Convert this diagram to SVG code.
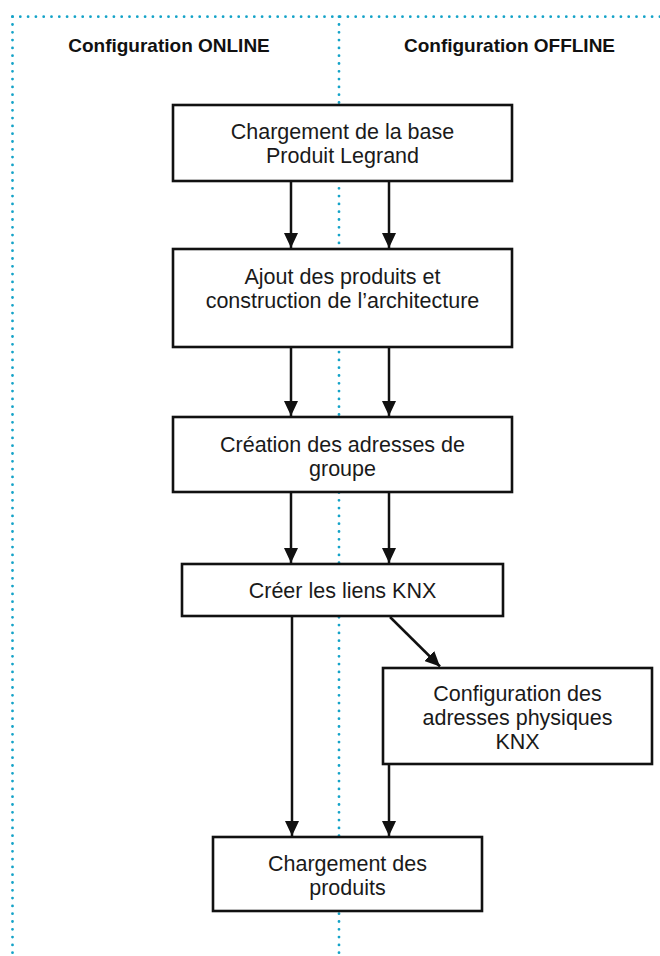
<svg xmlns="http://www.w3.org/2000/svg" width="660" height="956" viewBox="0 0 660 956">
<style>
.bg{fill:#ffffff}
.dot{fill:none;stroke:#14a3c8;stroke-width:2.8;stroke-linecap:round;stroke-dasharray:0 7.8}
.box{fill:#ffffff;stroke:#111111;stroke-width:2.6}
.lbl{font-family:"Liberation Sans",Arial,sans-serif;font-size:21.5px;fill:#1a1a1a;text-anchor:middle}
.ttl{font-family:"Liberation Sans",Arial,sans-serif;font-size:19px;font-weight:bold;fill:#111111;text-anchor:middle}
.arr{fill:none;stroke:#111111;stroke-width:2.5;marker-end:url(#ah)}
</style>
<defs>
<marker id="ah" viewBox="0 0 15 14" refX="15" refY="7" markerWidth="15" markerHeight="14" markerUnits="userSpaceOnUse" orient="auto">
<path d="M0,0 L15,7 L0,14 z" fill="#111111"/>
</marker>
</defs>
<rect class="bg" x="0" y="0" width="660" height="956"/>
<g id="lanes">
<path class="dot" d="M12.5,16.7 H660"/>
<path class="dot" d="M12.5,16.7 V956"/>
<path class="dot" d="M339,16.7 V956"/>
<text class="ttl" x="169" y="52">Configuration ONLINE</text>
<text class="ttl" x="509.5" y="52">Configuration OFFLINE</text>
</g>
<g id="connectors">
<path class="arr" d="M291,181 V248"/>
<path class="arr" d="M389,181 V248"/>
<path class="arr" d="M291,347 V416"/>
<path class="arr" d="M389,347 V416"/>
<path class="arr" d="M291,492 V563"/>
<path class="arr" d="M389,492 V563"/>
<path class="arr" d="M292,616 V836"/>
<path class="arr" d="M390,617 L440,666.5"/>
<path class="arr" d="M389,764 V836"/>
</g>
<g id="n1">
<rect class="box" x="173" y="105" width="339" height="76"/>
<text class="lbl" x="342.5" y="139">Chargement de la base<tspan x="342.5" dy="24">Produit Legrand</tspan></text>
</g>
<g id="n2">
<rect class="box" x="173" y="249" width="339" height="98"/>
<text class="lbl" x="342.5" y="283.5">Ajout des produits et<tspan x="342.5" dy="24">construction de l’architecture</tspan></text>
</g>
<g id="n3">
<rect class="box" x="173" y="417" width="339" height="75"/>
<text class="lbl" x="342.5" y="452">Création des adresses de<tspan x="342.5" dy="24">groupe</tspan></text>
</g>
<g id="n4">
<rect class="box" x="182" y="564" width="321" height="52"/>
<text class="lbl" x="342.5" y="598">Créer les liens KNX</text>
</g>
<g id="n5">
<rect class="box" x="383" y="668" width="269" height="96"/>
<text class="lbl" x="517.5" y="701">Configuration des<tspan x="517.5" dy="24">adresses physiques</tspan><tspan x="517.5" dy="24">KNX</tspan></text>
</g>
<g id="n6">
<rect class="box" x="213" y="837" width="269" height="74"/>
<text class="lbl" x="347.5" y="871">Chargement des<tspan x="347.5" dy="24">produits</tspan></text>
</g>
</svg>
